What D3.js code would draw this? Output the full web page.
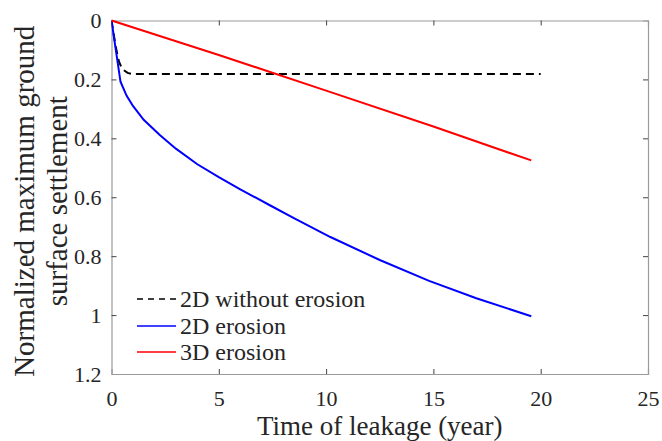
<!DOCTYPE html>
<html><head><meta charset="utf-8">
<script src="https://cdn.jsdelivr.net/npm/d3@7"></script>
<style>body{margin:0;background:#fff}svg{display:block}svg text{font-family:"Liberation Serif","Times New Roman",serif !important;fill:#262626}</style>
</head><body><svg id="c" width="662" height="441"></svg>
<script>
const xTicks = [0, 5, 10, 15, 20, 25];
const yTicks = [0, 0.2, 0.4, 0.6, 0.8, 1, 1.2];
const seriesNames = ["2D without erosion", "2D erosion", "3D erosion"];
const noErosionT = [0, 0.2, 0.35, 0.5, 0.75, 1, 20];
const noErosionV = [0, 0.09, 0.14, 0.165, 0.178, 0.182, 0.182];
const erosion2DT = [0, 0.42, 0.7, 1, 1.5, 2.25, 3, 4, 5, 6, 7.4, 8.5, 10.2, 12.5, 14.8, 17, 19.56];
const erosion2DV = [0, 0.208, 0.255, 0.29, 0.337, 0.389, 0.435, 0.488, 0.532, 0.573, 0.628, 0.671, 0.735, 0.813, 0.884, 0.943, 1.004];
const erosion3DT = [0, 5, 10, 15, 19.56];
const erosion3DV = [0, 0.117, 0.238, 0.36, 0.475];

const FONT = '"Liberation Serif","Times New Roman",serif';
const svg = d3.select("#c");
const L = 111.5, R = 648, T = 20.5, B = 374;
const x = d3.scaleLinear().domain([0, 25]).range([L, R]);
const y = d3.scaleLinear().domain([0, 1.2]).range([T, B]);

const series = [
  {name: seriesNames[0], t: noErosionT, v: noErosionV, color: "#000", dash: "8,5"},
  {name: seriesNames[1], t: erosion2DT, v: erosion2DV, color: "#0000ff", dash: null},
  {name: seriesNames[2], t: erosion3DT, v: erosion3DV, color: "#ff0000", dash: null}
];

// axes
const tickLen = 5;
const gx = svg.append("g").attr("transform", `translate(0,${B})`)
  .call(d3.axisBottom(x).tickValues(xTicks).tickSize(-tickLen).tickPadding(16).tickFormat(d3.format("d")));
const gxt = svg.append("g").attr("transform", `translate(0,${T})`)
  .call(d3.axisTop(x).tickValues(xTicks).tickSize(-tickLen).tickFormat(""));
const gy = svg.append("g").attr("transform", `translate(${L},0)`)
  .call(d3.axisLeft(y).tickValues(yTicks).tickSize(-tickLen).tickPadding(10).tickFormat(d => String(+d.toFixed(1))));
const gyr = svg.append("g").attr("transform", `translate(${R},0)`)
  .call(d3.axisRight(y).tickValues(yTicks).tickSize(-tickLen).tickFormat(""));
[gx, gxt, gy, gyr].forEach(g => {
  g.attr("font-family", FONT);
  g.select(".domain").attr("stroke", "#9a9a9a").attr("stroke-width", 1.2);
  g.selectAll(".tick line").attr("stroke", "#444").attr("stroke-width", 1);
  g.selectAll(".tick text").attr("font-size", 22).style("font-family", FONT).attr("fill", "#262626");
});
gxt.selectAll(".tick").filter(d => d === 0 || d === 25).select("line").remove();
gx.selectAll(".tick").filter(d => d === 0 || d === 25).select("line").remove();
gy.selectAll(".tick").filter(d => d === 0 || d === 1.2).select("line").remove();
gyr.selectAll(".tick").filter(d => d === 0 || d === 1.2).select("line").remove();

// lines
svg.append("clipPath").attr("id", "clip").append("rect")
  .attr("x", L).attr("y", T - 2).attr("width", R - L).attr("height", B - T + 2);
const line = d3.line().x(d => x(d[0])).y(d => y(d[1]));
series.forEach(s => {
  const pts = s.t.map((t, i) => [t, s.v[i]]);
  svg.append("path").datum(pts).attr("d", line).attr("fill", "none")
    .attr("stroke", s.color).attr("stroke-width", 2)
    .attr("stroke-dasharray", s.dash).attr("clip-path", "url(#clip)");
});

// axis titles
svg.append("text").attr("x", (L + R) / 2).attr("y", 435).attr("text-anchor", "middle")
  .attr("font-size", 27).style("font-family", FONT).text("Time of leakage (year)");
const yl = svg.append("text").attr("transform", `translate(0,${(T + B) / 2 + 4}) rotate(-90)`)
  .attr("text-anchor", "middle").attr("font-size", 29).style("font-family", FONT);
yl.append("tspan").attr("x", 0).attr("y", 34).text("Normalized maximum ground");
yl.append("tspan").attr("x", 0).attr("y", 67).text("surface settlement");

// legend
const legY = [299, 326, 352];
series.forEach((s, i) => {
  const yy = legY[i];
  svg.append("line").attr("x1", 137).attr("x2", 176).attr("y1", yy).attr("y2", yy)
    .attr("stroke", s.color).attr("stroke-width", 1.5).attr("stroke-dasharray", s.dash ? "6,5" : null);
  svg.append("text").attr("x", 180).attr("y", yy + 8).attr("font-size", 24)
    .style("font-family", FONT).text(s.name);
});
</script></body></html>
